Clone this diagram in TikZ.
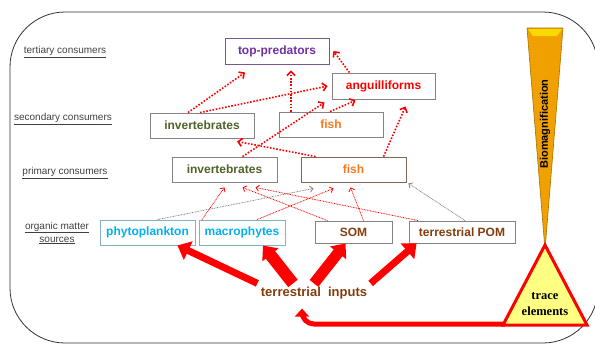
\documentclass[tikz,border=0pt]{standalone}
\usepackage{fontspec}
\setsansfont{Liberation Sans}
\newfontfamily\tracefont{Liberation Serif}
\usepackage{tikz}
\usetikzlibrary{arrows.meta}
\usepackage{xcolor}
\definecolor{predpurple}{RGB}{112,48,160}
\definecolor{invgreen}{RGB}{79,98,40}
\definecolor{fishorange}{RGB}{247,120,30}
\definecolor{srcblue}{RGB}{0,176,240}
\definecolor{srcbrown}{RGB}{132,60,12}
\definecolor{boxgray}{RGB}{135,130,128}
\definecolor{bioorange}{RGB}{240,160,0}
\definecolor{traceyellow}{RGB}{255,255,130}

\begin{document}
\begin{tikzpicture}[x=1pt,y=-1pt,
    box/.style={draw=boxgray, line width=0.9pt, inner sep=0pt, minimum height=25pt,
        font=\sffamily\bfseries\fontsize{12}{14}\selectfont},
    level/.style={font=\sffamily\fontsize{10}{13}\selectfont, text=black!75, align=center},
    eat/.style={red, line width=1.6pt, dash pattern=on 1.6pt off 1.6pt,
        -{Straight Barb[length=4pt,width=8pt]}},
    feed/.style={red, line width=0.8pt, dash pattern=on 0.8pt off 0.8pt,
        -{Straight Barb[length=3pt,width=6pt]}},
    grayfeed/.style={feed, gray},
    input/.style={red, -{Triangle[length=12pt,width=20pt]}}]
        \useasboundingbox (0,0) rectangle (595,346);
        \draw[line width=0.8pt, black!80, rounded corners=55pt] (10,12) rectangle (598,343);

        % trophic levels
        \node[level] (tert) at (65,52) {\underline{tertiary consumers}};
        \node[level] (sec) at (63,119) {\underline{secondary consumers}};
        \node[level] (prim) at (65,173) {\underline{primary consumers}};
        \node[level] (oms) at (57,233) {\underline{organic matter}\\\underline{sources}};

        \node[box, draw=predpurple!50!gray, text=predpurple, minimum width=104pt, minimum height=26pt] (toppred) at (277,51) {top-predators};
        \node[box, text=red, minimum width=103pt, minimum height=26pt] (anguil) at (383.5,86) {anguilliforms};
        \node[box, text=invgreen, minimum width=104pt] (inv2) at (202,125.5) {invertebrates};
        \node[box, text=fishorange, minimum width=104pt] (fish2) at (331,124.5) {fish};
        \node[box, text=invgreen, minimum width=105pt] (inv1) at (224.5,169.5) {invertebrates};
        \node[box, draw=srcbrown!40!gray, text=fishorange, minimum width=105pt] (fish1) at (353.5,169.5) {fish};
        \node[box, draw=srcblue!40!gray!70, text=srcblue, minimum width=95pt] (phyto) at (147.5,232.5) {phytoplankton};
        \node[box, draw=srcblue!40!gray!70, text=srcblue, minimum width=86pt] (macro) at (242,232.5) {macrophytes};
        \node[box, text=srcbrown, minimum width=77pt, minimum height=22pt] (som) at (353.5,232) {SOM};
        \node[box, text=srcbrown, minimum width=106pt, minimum height=22pt] (tpom) at (462,232) {terrestrial POM};
        \node[font=\sffamily\bfseries\fontsize{13}{15}\selectfont, text=srcbrown] (inputs) at (314,293) {terrestrial\ \ inputs};

        % biomagnification
        \draw[fill=bioorange, draw=bioorange!70!black, line width=0.6pt] (527,28) -- (563,28) -- (545,250) -- cycle;
        \fill[bioorange!40!yellow] (528,29) -- (562,29) -- (557,36) -- (533,36) -- cycle;
        \node[rotate=90, font=\sffamily\bfseries\fontsize{11}{13}\selectfont] (biomag) at (545,124) {Biomagnification};
        \draw[red, line width=3pt, fill=traceyellow, line join=miter] (545,245) -- (587,325) -- (503,325) -- cycle;
        \coordinate (tracebl) at (505,324);
        \node[font=\tracefont\bfseries\fontsize{12.5}{16}\selectfont, align=center] (trace) at (545,304) {trace\\elements};

        % inputs
        \draw[input, line width=7pt] (inputs.north west) -- ([xshift=-18pt]phyto.south east);
        \draw[input, line width=12pt] ([xshift=-21pt]inputs.north) -- ([xshift=21pt]macro.south);
        \draw[input, line width=11pt] (inputs.north) -- ([xshift=-8pt]som.south);
        \draw[input, line width=7pt] (inputs.north east) -- ([xshift=8pt]tpom.south west);
        \draw[red, line width=5pt, rounded corners=12pt, -{Triangle[length=8pt,width=14pt]}] (tracebl) -| ([xshift=-12pt,yshift=-6pt]inputs.south);

        % sources to primary consumers
        \draw[grayfeed] ([xshift=10pt]phyto.north) -- ([xshift=-40pt,yshift=-6pt]fish1.south);
        \draw[feed] ([xshift=-40pt]macro.north) -- ([yshift=-5pt]inv1.south);
        \draw[feed] ([xshift=15pt]macro.north) -- ([xshift=-20pt,yshift=-6pt]fish1.south);
        \draw[feed] ([xshift=-26pt]som.north) -- ([xshift=18pt,yshift=-5pt]inv1.south);
        \draw[feed] ([xshift=10pt]som.north) -- ([xshift=-3pt,yshift=-5pt]fish1.south);
        \draw[feed] ([xshift=-44pt]tpom.north) -- ([xshift=31pt,yshift=-5pt]inv1.south);
        \draw[grayfeed] ([xshift=3pt]tpom.north) -- ([xshift=2pt,yshift=-1pt]fish1.south east);

        % consumers
        \draw[eat] ([xshift=-14pt]inv2.north) -- ([xshift=-32pt,yshift=-8pt]toppred.south);
        \draw[eat] ([xshift=-2pt]inv2.north) -- ([xshift=-4pt]anguil.west);
        \draw[eat] ([xshift=-40pt]fish2.north) -- ([xshift=14pt,yshift=-6pt]toppred.south);
        \draw[eat] ([xshift=-34pt]anguil.north) -- ([xshift=4pt]toppred.east);
        \draw[eat] ([xshift=30pt]fish1.north) -- ([xshift=22pt,yshift=-7pt]anguil.south);
        \draw[eat] ([xshift=-38pt]fish1.north) -- ([xshift=35pt,yshift=-3pt]inv2.south);
        \draw[eat] ([xshift=18pt]inv1.north) -- ([xshift=-7pt,yshift=-3pt]anguil.south west);
        \draw[eat] ([xshift=-1pt]fish2.north) -- ([xshift=-28pt,yshift=-1pt]anguil.south);
\end{tikzpicture}
\end{document}
